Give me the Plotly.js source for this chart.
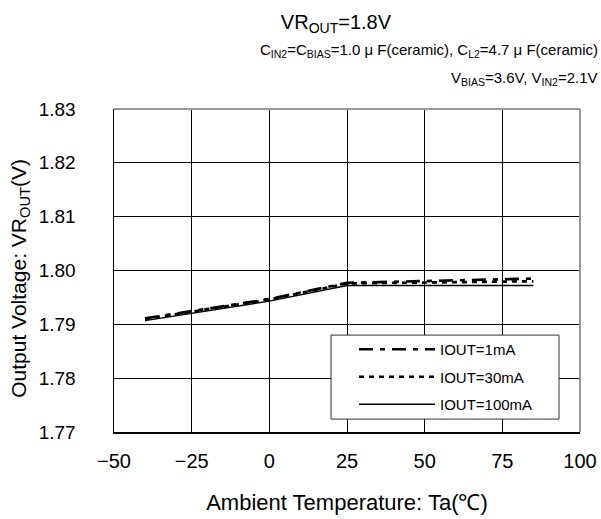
<!DOCTYPE html>
<html>
<head>
<meta charset="utf-8">
<script src="https://cdn.plot.ly/plotly-3.0.1.min.js"></script>
<style>html,body{margin:0;padding:0;background:#fff;}</style>
</head>
<body>
<div id="chart" style="width:601px;height:519px;"></div>
<script>
const temps = [-40, -25, 0, 25, 50, 75, 85];
const iout1mA = [1.7911, 1.7924, 1.7947, 1.7977, 1.7980, 1.7984, 1.7985];
const iout30mA = [1.7910, 1.7923, 1.7946, 1.7976, 1.7978, 1.7980, 1.7980];
const iout100mA = [1.7907, 1.7920, 1.7943, 1.7972, 1.7972, 1.7972, 1.7972];
const seriesNames = ['IOUT=1mA', 'IOUT=30mA', 'IOUT=100mA'];
const xTicks = [-50, -25, 0, 25, 50, 75, 100];
const yTicks = [1.77, 1.78, 1.79, 1.80, 1.81, 1.82, 1.83];
const yTickText = ['1.77', '1.78', '1.79', '1.80', '1.81', '1.82', '1.83'];

const font = 'Liberation Sans, Arial, sans-serif';

const traces = [
  {x: temps, y: iout1mA, name: seriesNames[0], legendgroup: 'a', mode: 'lines',
   line: {color: '#000', width: 2.7, dash: '14px,7px,5px,7px'}},
  {x: temps, y: iout30mA, name: seriesNames[1], legendgroup: 'b', mode: 'lines',
   line: {color: '#000', width: 2.7, dash: '5px,5px'}},
  {x: temps, y: iout100mA, name: seriesNames[2], legendgroup: 'c', mode: 'lines',
   line: {color: '#000', width: 1.4}}
];

const layout = {
  width: 601, height: 519,
  margin: {l: 114, r: 21, t: 109, b: 87},
  paper_bgcolor: '#fff', plot_bgcolor: '#fff',
  font: {family: font, color: '#000'},
  showlegend: true,
  title: {text: 'VR<sub>OUT</sub>=1.8V', x: 0.559, xanchor: 'center', y: 0.958, yanchor: 'middle',
          font: {family: font, size: 20, color: '#000'}},
  xaxis: {
    range: [-50, 100], tickvals: xTicks, ticks: '', ticklabelstandoff: 10,
    showgrid: true, gridcolor: '#000', gridwidth: 1, zeroline: false,
    showline: true, linecolor: '#000', linewidth: 1.5,
    tickfont: {family: font, size: 20, color: '#000'},
    title: {text: 'Ambient Temperature: Ta(℃)', standoff: 24, font: {family: font, size: 22, color: '#000'}}
  },
  yaxis: {
    range: [1.77, 1.83], tickvals: yTicks, ticktext: yTickText, ticks: '', ticklabelstandoff: 33,
    showgrid: true, gridcolor: '#000', gridwidth: 1, zeroline: false,
    showline: true, linecolor: '#000', linewidth: 1.5,
    tickfont: {family: font, size: 19, color: '#000'}
  },
  legend: {
    x: 0.515, y: 0.3065, xanchor: 'left', yanchor: 'top',
    bgcolor: 'rgba(0,0,0,0)', borderwidth: 0,
    itemwidth: 76, tracegroupgap: 5,
    font: {family: font, size: 15, color: '#000'}
  },
  shapes: [
    {type: 'line', xref: 'paper', yref: 'paper', x0: 0, x1: 1, y0: 1, y1: 1, line: {color: '#999', width: 2}},
    {type: 'line', xref: 'paper', yref: 'paper', x0: 1, x1: 1, y0: 0, y1: 1, line: {color: '#999', width: 2}},
    {type: 'rect', xref: 'paper', yref: 'paper', layer: 'above',
     x0: 0.4657, x1: 0.955, y0: 0.040, y1: 0.300,
     fillcolor: '#fff', line: {color: '#333', width: 1}}
  ],
  annotations: [
    {text: 'C<sub>IN2</sub>=C<sub>BIAS</sub>=1.0 μ F(ceramic), C<sub>L2</sub>=4.7 μ F(ceramic)', xref: 'paper', yref: 'paper',
     x: 1.043, y: 1.18, xanchor: 'right', yanchor: 'middle', showarrow: false,
     font: {family: font, size: 15, color: '#000'}},
    {text: 'V<sub>BIAS</sub>=3.6V, V<sub>IN2</sub>=2.1V', xref: 'paper', yref: 'paper',
     x: 1.043, y: 1.093, xanchor: 'right', yanchor: 'middle', showarrow: false,
     font: {family: font, size: 15, color: '#000'}},
    {text: 'Output Voltage: VR<sub>OUT</sub>(V)', xref: 'paper', yref: 'paper',
     x: -0.202, y: 0.477, xanchor: 'center', yanchor: 'middle', textangle: -90, showarrow: false,
     font: {family: font, size: 21, color: '#000'}}
  ]
};

Plotly.newPlot('chart', traces, layout, {displayModeBar: false, staticPlot: true});
</script>
</body>
</html>
